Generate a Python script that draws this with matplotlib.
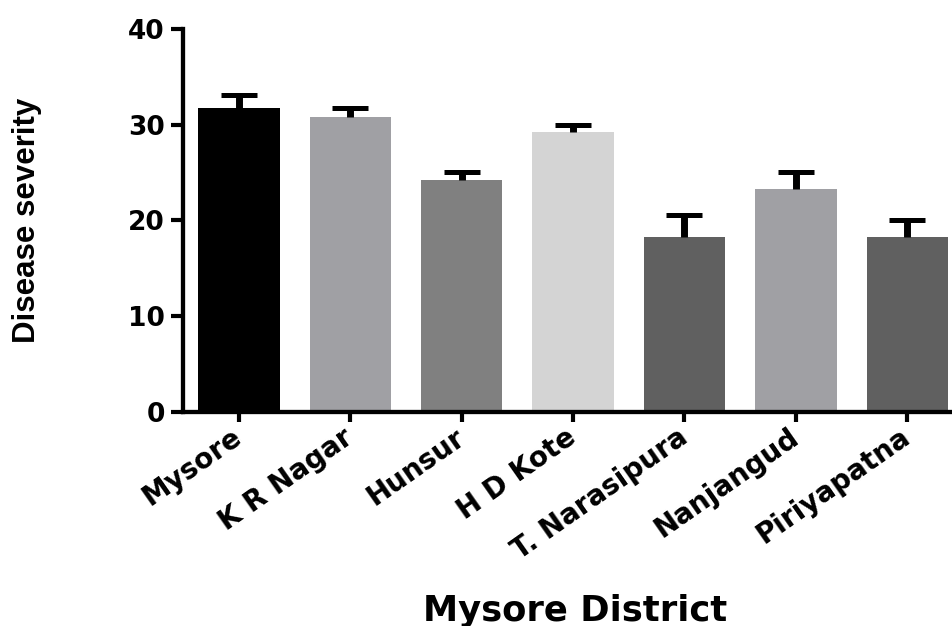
import numpy as np
import matplotlib
matplotlib.use("Agg")
import matplotlib.pyplot as plt

# values
districts = ["Mysore", "K R Nagar", "Hunsur", "H D Kote",
             "T. Narasipura", "Nanjangud", "Piriyapatna"]
severity = [31.75, 30.75, 24.2, 29.2, 18.3, 23.3, 18.3]
sem = [1.3, 1.0, 0.8, 0.8, 2.3, 1.75, 1.7]
bar_colors = ["#000000", "#a0a0a4", "#808080", "#d4d4d4",
              "#606060", "#a0a0a4", "#606060"]
yticks = [0, 10, 20, 30, 40]

BOLD = ["DejaVu Sans"]
ARIAL = ["Liberation Sans", "DejaVu Sans"]


def main():
    fig = plt.figure(figsize=(9.52, 6.26), dpi=100)
    ax = fig.add_axes([0.1922, 0.3426, 0.807, 0.6111])

    x = np.arange(len(districts))
    ax.bar(x, severity, width=0.73, color=bar_colors, zorder=2)
    # only the upper half of the error bar, as in the original
    _, caps, _ = ax.errorbar(x, severity, yerr=[np.zeros(len(sem)), sem],
                             fmt="none", ecolor="black", elinewidth=5,
                             capsize=13, capthick=3.6, zorder=3)
    caps[0].set_visible(False)

    ax.set_xlim(-0.503, 6.395)
    ax.set_ylim(0, 40)
    ax.set_yticks(yticks)
    ax.set_xticks(x)

    for side in ("top", "right"):
        ax.spines[side].set_visible(False)
    for side in ("left", "bottom"):
        ax.spines[side].set_linewidth(3.1)
    ax.spines["bottom"].set_zorder(4)

    ax.tick_params(axis="y", direction="out", length=9, width=3, pad=4)
    ax.tick_params(axis="x", direction="out", length=7, width=3, pad=4)

    ax.set_yticklabels([str(t) for t in yticks], family=BOLD,
                       fontweight="bold", fontsize=19)
    ax.set_xticklabels(districts, family=BOLD, fontweight="bold",
                       fontsize=20, rotation=35, ha="right", va="center",
                       rotation_mode="anchor")
    for lab in ax.get_xticklabels():
        lab.set_y(-0.02)

    ax.set_ylabel("Disease severity", family=ARIAL, fontweight="bold",
                  fontsize=22.5)
    ax.yaxis.label.set_va("center")
    ax.yaxis.set_label_coords(-0.203, 0.5)

    ax.set_xlabel("Mysore District", family=BOLD, fontweight="bold",
                  fontsize=25.5)
    ax.xaxis.label.set_va("baseline")
    ax.xaxis.set_label_coords(0.51, -0.548)

    fig.savefig("out.png", dpi=100)


if __name__ == "__main__":
    main()
